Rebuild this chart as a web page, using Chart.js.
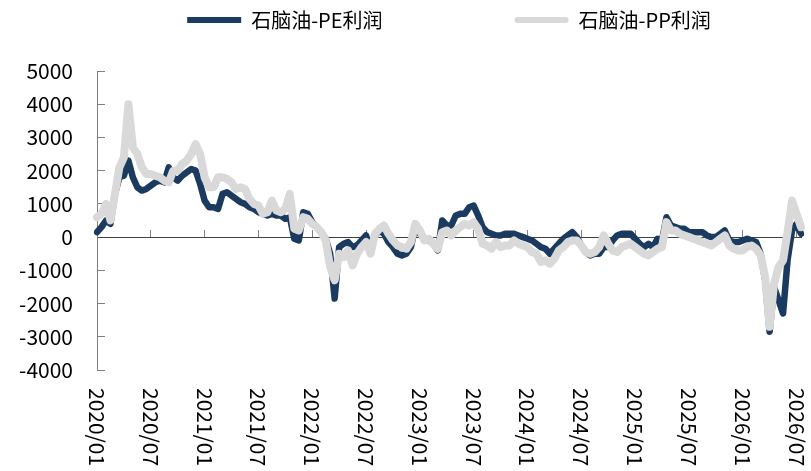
<!DOCTYPE html>
<html>
<head>
<meta charset="utf-8">
<script src="https://cdn.jsdelivr.net/npm/chart.js@4/dist/chart.umd.min.js"></script>
<style>
html,body{margin:0;padding:0;background:#fff;}
#wrap{width:811px;height:471px;position:relative;}
</style>
</head>
<body>
<div id="wrap"><canvas id="c"></canvas></div>
<script>
// ---- data (semi-monthly readings, 2020/01 .. 2026/07) ----
const seriesNames = ['石脑油-PE利润', '石脑油-PP利润'];

const pePoints = [
  150, 300, 500, 400, 1300, 1800, 1850, 2300, 1800, 1500, 1400, 1450,
  1550, 1650, 1700, 1650, 2100, 1800, 1700, 1850, 1950, 2050, 2000, 1600,
  1100, 900, 900, 850, 1300, 1350, 1250, 1150, 1050, 1000, 900, 850,
  750, 700, 650, 700, 650, 650, 550, 600, -50, -100, 750, 700,
  450, 300, 150, -50, -500, -1850, -300, -200, -150, -300, -250, -100,
  50, -400, 50, 200, 100, -150, -300, -500, -550, -500, -300, 300,
  100, -50, -100, -200, -400, 500, 350, 350, 650, 700, 700, 900,
  950, 650, 300, 150, 100, 50, 50, 100, 100, 100, 50, 0,
  -50, -100, -200, -300, -350, -500, -350, -200, -50, 50, 150, 0,
  -250, -450, -550, -500, -500, -300, -300, -100, 50, 100, 100, 100,
  -50, -200, -300, -200, -300, -50, -100, 600, 350, 300, 250, 250,
  150, 150, 150, 150, 50, 0, 0, 100, 200, -100, -150, -150,
  -100, -50, -100, -150, -500, -1300, -2850, -1500, -1900, -2300, -700, 200,
  400, 100
];

const ppPoints = [
  600, 700, 1000, 500, 1300, 2100, 2400, 4000, 2700, 2500, 2100, 1900,
  1900, 1850, 1800, 1700, 1650, 2000, 2000, 2200, 2300, 2500, 2800, 2500,
  1800, 1500, 1500, 1800, 1800, 1750, 1650, 1450, 1500, 1450, 1150, 1000,
  950, 700, 750, 1100, 800, 750, 850, 1300, 250, 200, 600, 550,
  400, 300, 150, -100, -900, -1300, -500, -600, -400, -850, -500, -300,
  -150, -500, 100, 250, 350, 100, -100, -250, -300, -350, -150, 400,
  200, -100, -50, -200, -350, 150, 200, 50, 200, 300, 400, 350,
  450, 250, -200, -250, -350, -150, -300, -250, -250, -100, -200, -250,
  -300, -450, -500, -750, -700, -800, -650, -400, -300, -150, -100, -100,
  -250, -450, -500, -450, -300, 50, -200, -400, -450, -300, -250, -200,
  -300, -400, -500, -550, -450, -350, -300, 450, 200, 200, 100, 50,
  0, -50, -100, -150, -200, -250, -150, -50, 50, -250, -350, -400,
  -400, -300, -250, -350, -550, -1200, -2700, -1400, -900, -700, 150, 1100,
  700, 300
];

const xTickLabels = ['2020/01','2020/07','2021/01','2021/07','2022/01','2022/07','2023/01',
                     '2023/07','2024/01','2024/07','2025/01','2025/07','2026/01','2026/07'];
const yTickValues = [-4000, -3000, -2000, -1000, 0, 1000, 2000, 3000, 4000, 5000];

// categories: one per half month
const dates = [];
for (let i = 0; i < pePoints.length; i++) {
  const mIdx = Math.floor(i / 2);
  const yr = 2020 + Math.floor(mIdx / 12);
  const mo = String(mIdx % 12 + 1).padStart(2, '0');
  dates.push(yr + '/' + mo + '/' + (i % 2 ? '16' : '01'));
}
const xTickIdx = dates.map((d, i) => (d.endsWith('/01') && xTickLabels.includes(d.slice(0, 7))) ? i : -1).filter(i => i >= 0);

// ---- style ----
const FONT = '"Noto Sans CJK SC", "Noto Sans", sans-serif';
const NAVY = '#1b3a5f';
const GREY = '#d9d9d9';
const mctx = document.createElement('canvas').getContext('2d');
mctx.font = '21px ' + FONT;
const labelLen = mctx.measureText(xTickLabels[0]).width;

const setXTicks = (s) => { s.ticks = xTickIdx.map(i => ({ value: i })); };

new Chart(document.getElementById('c'), {
  type: 'line',
  data: {
    labels: dates,
    datasets: [
      {
        label: seriesNames[0], data: pePoints, order: 1,
        borderColor: NAVY, backgroundColor: NAVY, borderWidth: 6.5,
        pointRadius: 0, tension: 0, borderJoinStyle: 'round', borderCapStyle: 'round', fill: false
      },
      {
        label: seriesNames[1], data: ppPoints, order: 0,
        borderColor: GREY, backgroundColor: GREY, borderWidth: 8,
        pointRadius: 0, tension: 0, borderJoinStyle: 'round', borderCapStyle: 'round', fill: false
      }
    ]
  },
  options: {
    responsive: true,
    maintainAspectRatio: false,
    animation: false,
    events: [],
    layout: { padding: { top: -24, right: 10, bottom: 0, left: 0 } },
    plugins: {
      tooltip: { enabled: false },
      legend: {
        display: true,
        position: 'top',
        align: 'center',
        fullSize: false,
        onClick: () => {},
        labels: {
          color: '#000',
          font: { family: FONT, size: 20 },
          boxWidth: 54,
          boxHeight: 6,
          padding: 34,
          generateLabels(chart) {
            const items = chart.data.datasets.map((ds, i) => ({
              text: ds.label,
              fillStyle: ds.borderColor,
              strokeStyle: ds.borderColor,
              lineWidth: 0,
              hidden: !chart.isDatasetVisible(i),
              datasetIndex: i,
              borderRadius: i === 1 ? 3 : 0,
              fontColor: '#000'
            }));
            const spacer = { text: '', fillStyle: 'rgba(0,0,0,0)', strokeStyle: 'rgba(0,0,0,0)', lineWidth: 0, hidden: false };
            return [items[0], spacer, items[1]];
          }
        }
      }
    },
    scales: {
      x: {
        type: 'category',
        position: 'bottom',
        grid: { display: false, drawTicks: false },
        border: { display: false },
        ticks: {
          autoSkip: false,
          minRotation: -90,
          maxRotation: -90,
          padding: 18 + labelLen,
          color: '#000',
          font: { family: FONT, size: 21 },
          callback: (v) => dates[v].slice(0, 7)
        },
        afterBuildTicks: setXTicks,
        afterFit: (s) => { s.height = 101; s.paddingLeft = 0; s.paddingRight = 0; }
      },
      x2: {
        type: 'category',
        axis: 'x',
        position: { y: 0 },
        grid: { drawOnChartArea: false, drawTicks: true, tickLength: -8, color: '#808080', lineWidth: 1 },
        border: { display: true, color: '#404040', width: 1 },
        ticks: { display: false, autoSkip: false },
        afterBuildTicks: setXTicks
      },
      xTop: {
        type: 'category',
        axis: 'x',
        position: 'top',
        grid: { display: false },
        border: { display: false },
        ticks: { display: false },
        afterFit: (s) => { s.height = 31; }
      },
      y: {
        type: 'linear',
        min: -4000,
        max: 5000,
        afterBuildTicks: (s) => { s.ticks = yTickValues.map(v => ({ value: v })); },
        ticks: {
          padding: 32,
          color: '#000',
          font: { family: FONT, size: 21 },
          callback: (v) => String(v)
        },
        grid: { drawOnChartArea: false, drawTicks: true, tickLength: -8, color: '#808080', lineWidth: 1 },
        border: { display: true, color: '#808080', width: 1 },
        afterFit: (s) => { s.width = 97; }
      }
    }
  }
});
</script>
</body>
</html>
